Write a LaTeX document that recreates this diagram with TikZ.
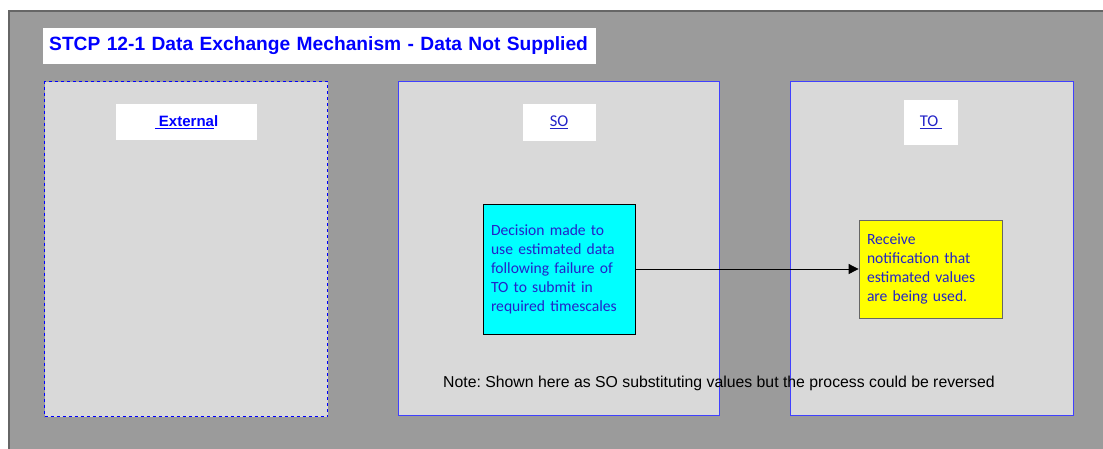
\documentclass[tikz,border=0pt]{standalone}
\usepackage{fontspec}
\setmainfont{Liberation Sans}
\newfontfamily\calfont{Carlito}
\usetikzlibrary{arrows.meta}

\definecolor{bggray}{HTML}{9B9B9B}
\definecolor{edgegray}{HTML}{666666}
\definecolor{lanegray}{HTML}{D9D9D9}
\definecolor{laneblue}{HTML}{4040FF}
\definecolor{darkblue}{HTML}{2323C8}
\definecolor{boxcyan}{HTML}{00FFFF}
\definecolor{boxyellow}{HTML}{FFFF00}

\tikzset{
  lane/.style={draw=laneblue, fill=lanegray, line width=1.3pt, inner sep=0pt, anchor=north west},
  tag/.style={fill=white, inner sep=0pt},
  task/.style={draw=black, line width=0.8pt, inner xsep=8pt, inner ysep=0pt, align=left,
    text=darkblue, font=\calfont\fontsize{15.6}{19}\selectfont}
}

\begin{document}
\frenchspacing
\begin{tikzpicture}[x=1pt, y=-1pt]
  \useasboundingbox (0,0) rectangle (1103,448);
  \fill[white] (0,0) rectangle (1103,448);

  % background sheet
  \fill[bggray] (8,10) rectangle (1110,455);
  \draw[edgegray, line width=2pt] (9,455) -- (9,11) -- (1110,11);

  % title
  \node[tag, anchor=west, minimum width=553, minimum height=36, text width=553, align=left,
    text=blue, font=\bfseries\fontsize{19.2}{22}\selectfont] (title) at (43,46)
    {\hspace*{6pt}STCP 12-1 Data Exchange Mechanism - Data Not Supplied};

  % swim lanes
  \node[lane, draw=blue, dashed, minimum width=283, minimum height=335] (ext) at (44,81) {};
  \node[lane, minimum width=321, minimum height=334] (so) at (398,81) {};
  \node[lane, minimum width=283, minimum height=334] (to) at (790,81) {};

  % lane headings
  \node[tag, minimum width=141, minimum height=36, text=blue, font=\bfseries\fontsize{15}{18}\selectfont]
    (extlbl) at (186.5,122) {\underline{\ Externa}l};
  \node[tag, minimum width=73, minimum height=37, text=darkblue, font=\calfont\fontsize{16.5}{19}\selectfont]
    (solbl) at (559,122) {\underline{SO}};
  \node[tag, minimum width=54, minimum height=45, text=darkblue, font=\calfont\fontsize{16.5}{19}\selectfont]
    (tolbl) at (931,122) {\underline{TO\ }};

  % process boxes
  \node[task, fill=boxcyan, minimum width=152, minimum height=130, text width=136] (decide) at (559,269)
    {Decision made to\\use estimated data\\following failure of\\TO to submit in\\required timescales};
  \node[task, fill=boxyellow, draw=edgegray, minimum width=143, minimum height=98, text width=127] (notify) at (930.5,269)
    {Receive\\notification that\\estimated values\\are being used.};

  \draw[-{Triangle[length=10pt, width=10pt]}, line width=0.8pt] (decide.east) -- (notify.west);

  % note
  \node[font=\fontsize{15.8}{18}\selectfont] (note) at (719,383)
    {Note: Shown here as SO substituting values but the process could be reversed};
\end{tikzpicture}
\end{document}
